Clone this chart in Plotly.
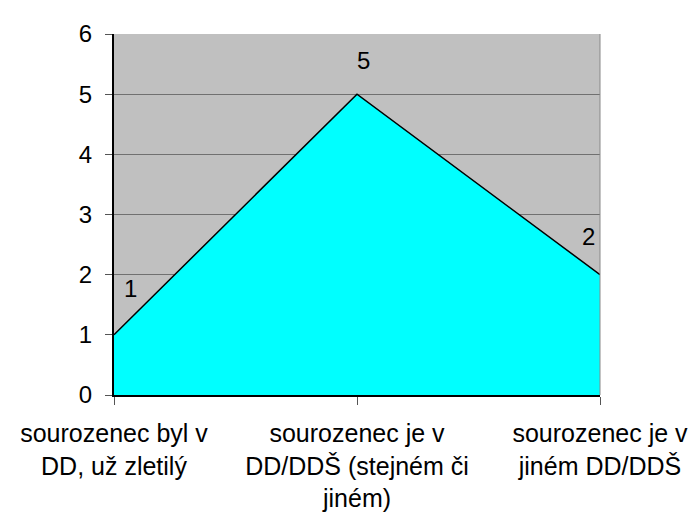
import plotly.graph_objects as go

categories = ["sourozenec byl v<br>DD, už zletilý",
              "sourozenec je v<br>DD/DDŠ (stejném či<br>jiném)",
              "sourozenec je v<br>jiném DD/DDŠ"]
values = [1, 5, 2]
y_ticks = [0, 1, 2, 3, 4, 5, 6]

xpos = list(range(len(categories)))
family = "Liberation Sans, Arial, sans-serif"
font = dict(family=family, size=24, color="black")
xfont = dict(family=family, size=25, color="black")

fig = go.Figure()
fig.add_trace(go.Scatter(
    x=xpos, y=values, mode="lines", fill="tozeroy",
    fillcolor="#00FFFF", line=dict(color="black", width=1.5),
    hoverinfo="skip", showlegend=False))

shifts = [(16, 46), (6, 34), (-12, 38)]
for xi, v, (dx, dy) in zip(xpos, values, shifts):
    fig.add_annotation(x=xi, y=v, text=str(v), showarrow=False,
                       xshift=dx, yshift=dy, font=font)

fig.update_layout(
    width=697, height=516,
    margin=dict(l=98, r=105, t=17, b=127),
    paper_bgcolor="white", plot_bgcolor="#C0C0C0",
    font=font,
)
fig.update_xaxes(
    range=[0, 2], tickvals=xpos, ticktext=categories,
    showgrid=False, zeroline=False,
    showline=True, linecolor="black", linewidth=2,
    ticks="outside", ticklen=8, tickcolor="#555555", tickwidth=1,
    tickfont=xfont, ticklabelstandoff=7,
)
fig.update_yaxes(
    range=[0, 6], tickvals=y_ticks, showgrid=True, gridcolor="#707070", gridwidth=1,
    zeroline=False, showline=True, linecolor="black", linewidth=2,
    ticks="outside", ticklen=7, tickcolor="#555555", tickwidth=1,
    tickfont=font, ticklabelstandoff=8,
)
fig.add_shape(type="line", xref="paper", yref="paper", x0=1, x1=1, y0=0, y1=1,
              line=dict(color="#888888", width=1))
fig.write_html("out.html")
